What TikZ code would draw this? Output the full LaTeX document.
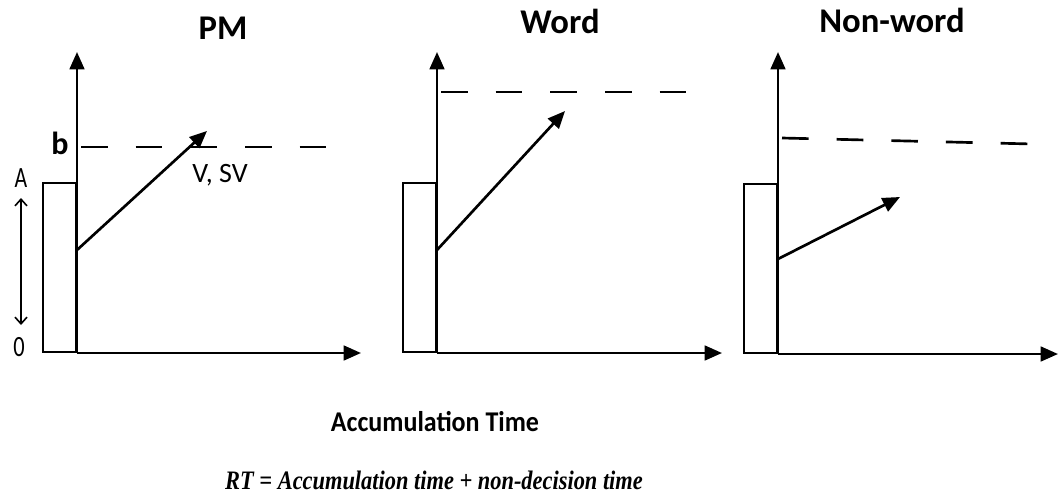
\documentclass[tikz,border=0pt]{standalone}
\usepackage{fontspec}
\setmainfont{Carlito}
\newfontfamily\timesfont{Liberation Serif}
\usetikzlibrary{arrows.meta}
\begin{document}
\begin{tikzpicture}[x=0.75pt,y=-0.75pt,
  axis/.style={line width=2pt,-{Triangle[length=13pt,width=11pt]}},
  drift/.style={line width=2pt,-{Triangle[length=13pt,width=11pt]}},
  thresh/.style={line width=2pt,dash pattern=on 20pt off 21pt},
  startbox/.style={draw,line width=1.6pt,inner sep=0pt,minimum width=24.75pt,minimum height=126.75pt,anchor=south east},
  title/.style={font=\bfseries\fontsize{26}{30}\selectfont},
  lab/.style={font=\fontsize{21}{24}\selectfont,inner sep=0pt}]
\useasboundingbox (0,0) rectangle (1059,497);
% panel 1
\coordinate (o1) at (77,353);
\coordinate (t1) at (77,52);
\coordinate (x1) at (361,353);
\node[startbox] (box1) at (o1) {};
\draw[axis] (o1) -- (t1);
\draw[axis] (box1.south east) -- (x1);
\coordinate (b1s) at (81,147);
\coordinate (b1e) at (335,147);
\draw[thresh] (b1s) -- (b1e);
\coordinate (d1s) at (77,250);
\coordinate (d1e) at (207,131);
\draw[drift] (d1s) -- (d1e);
\node[title] (pm) at (223,28) {PM};
\node[lab,font=\bfseries\fontsize{24}{28}\selectfont] (blab) at (60,143) {b};
\node[lab] (alab) at (21,178) {\scalebox{0.78}[1.05]{A}};
\node[lab] (zlab) at (19,347) {\scalebox{0.8}[1.05]{0}};
\coordinate (ra) at (21,198);
\coordinate (rb) at (21,325);
\draw[line width=1.2pt,{Straight Barb[length=5pt,width=9pt]}-{Straight Barb[length=5pt,width=9pt]}] (ra) -- (rb);
\node[lab] (vsv) at (220,175) {V, SV};
% panel 2
\coordinate (o2) at (437,353);
\coordinate (t2) at (437,52);
\coordinate (x2) at (722,353);
\node[startbox] (box2) at (o2) {};
\draw[axis] (o2) -- (t2);
\draw[axis] (box2.south east) -- (x2);
\coordinate (b2s) at (441,92);
\coordinate (b2e) at (692,92);
\draw[thresh] (b2s) -- (b2e);
\coordinate (d2s) at (437,250);
\coordinate (d2e) at (565,111);
\draw[drift] (d2s) -- (d2e);
\node[title] (word) at (560,21) {Word};
% panel 3
\coordinate (o3) at (778,354);
\coordinate (t3) at (778,52);
\coordinate (x3) at (1058,354);
\node[startbox] (box3) at (o3) {};
\draw[axis] (o3) -- (t3);
\draw[axis] (box3.south east) -- (x3);
\coordinate (b3s) at (782,138);
\coordinate (b3e) at (1033,144);
\draw[thresh] (b3s) -- (b3e);
\coordinate (d3s) at (778,259);
\coordinate (d3e) at (900,197);
\draw[drift] (d3s) -- (d3e);
\node[title] (nonword) at (892,20) {Non-word};
% bottom
\node (acc) at (435,422) {\scalebox{1}[1.1]{\bfseries\fontsize{19.5}{23}\selectfont Accumulation Time}};
\node (rt) at (434,480) {\scalebox{0.84}[1]{\timesfont\bfseries\itshape\fontsize{20}{24}\selectfont RT = Accumulation time + non-decision time}};
\end{tikzpicture}
\end{document}
